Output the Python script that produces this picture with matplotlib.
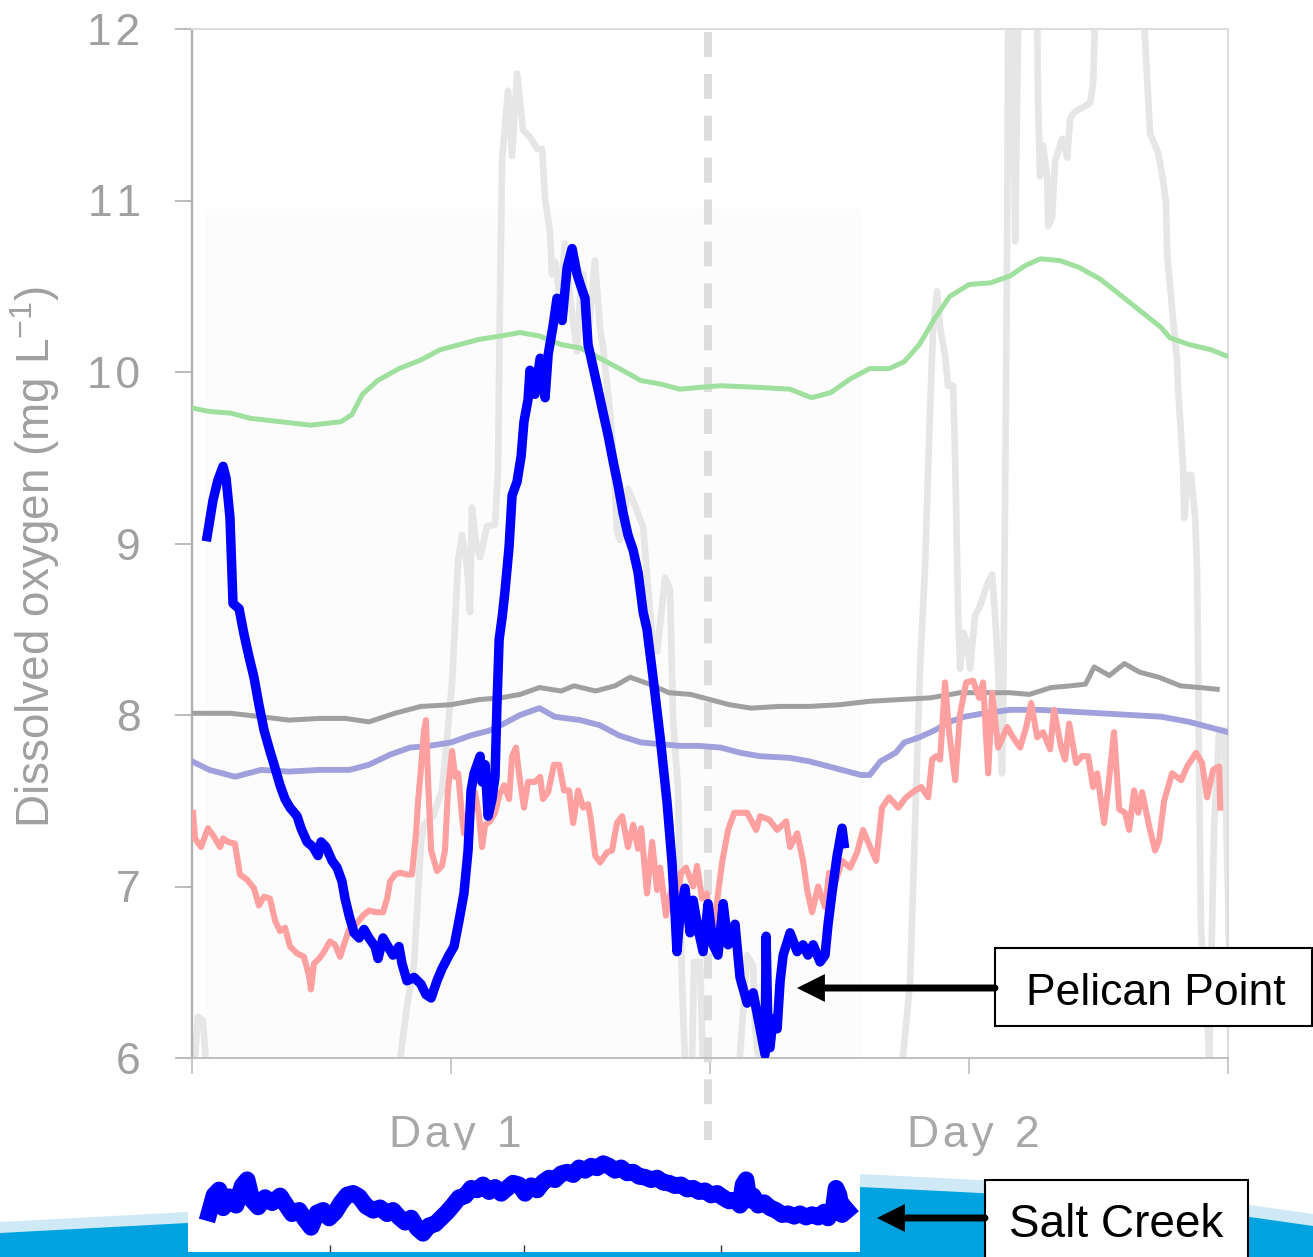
import matplotlib
matplotlib.use("Agg")
import matplotlib.pyplot as plt
from matplotlib.patches import Rectangle, Polygon, FancyArrowPatch

plt.rcParams["font.family"] = ["Liberation Sans", "DejaVu Sans"]

# Dissolved oxygen (mg/L) against hours since the start of the record.
GREEN_T = [0, 0.8, 1.8, 2.7, 4.1, 5.5, 6.9, 7.4, 7.9, 8.6, 9.6, 10.6, 11.5, 12.4,
           13.3, 14.3, 15.2, 16.1, 17.1, 18.0, 18.9, 19.8, 20.8, 21.7, 22.6, 23.5,
           24.5, 26.3, 27.7, 28.7, 29.6, 30.5, 31.4, 32.3, 33.0, 33.7, 34.4, 35.1,
           36.0, 37.0, 37.9, 38.6, 39.3, 40.2, 41.1, 42.1, 43.0, 43.9, 44.9, 45.3,
           46.2, 47.2, 48.0]
GREEN_DO = [9.79, 9.77, 9.76, 9.73, 9.71, 9.69, 9.71, 9.75, 9.87, 9.95, 10.02, 10.07,
            10.13, 10.16, 10.19, 10.21, 10.23, 10.21, 10.16, 10.14, 10.08, 10.02, 9.95,
            9.93, 9.90, 9.91, 9.92, 9.91, 9.90, 9.85, 9.88, 9.96, 10.02, 10.02, 10.06,
            10.16, 10.31, 10.44, 10.51, 10.52, 10.56, 10.62, 10.66, 10.65, 10.61, 10.54,
            10.45, 10.36, 10.26, 10.20, 10.16, 10.13, 10.09]

GREY_T = [0, 1.8, 3.2, 4.5, 5.9, 7.1, 8.2, 9.4, 10.6, 12.0, 13.3, 14.3, 15.2, 16.1,
          17.1, 17.7, 18.7, 19.6, 20.3, 21.2, 22.1, 23.1, 24.0, 24.9, 25.9, 27.2, 28.6,
          30.0, 31.4, 32.8, 34.2, 35.6, 37.0, 37.9, 38.8, 39.8, 40.7, 41.4, 41.8, 42.5,
          43.2, 43.9, 44.8, 45.8, 46.7, 47.5]
GREY_DO = [8.01, 8.01, 7.99, 7.97, 7.98, 7.98, 7.96, 8.01, 8.05, 8.06, 8.09, 8.10,
           8.12, 8.16, 8.14, 8.17, 8.14, 8.17, 8.22, 8.18, 8.13, 8.12, 8.09, 8.06, 8.04,
           8.05, 8.05, 8.06, 8.08, 8.09, 8.10, 8.13, 8.13, 8.13, 8.12, 8.16, 8.17, 8.18,
           8.28, 8.23, 8.30, 8.25, 8.22, 8.17, 8.16, 8.15]

LAV_T = [0, 0.8, 2.0, 3.2, 4.5, 5.9, 7.3, 8.2, 9.2, 10.1, 11.0, 12.0, 12.9, 13.8, 14.3,
         15.2, 16.1, 16.8, 18.0, 18.9, 19.8, 20.8, 21.7, 22.6, 23.5, 24.5, 25.4, 26.3,
         27.7, 28.6, 29.8, 31.0, 31.4, 31.9, 32.6, 33.0, 33.7, 34.4, 35.1, 35.8, 36.7,
         37.9, 39.3, 40.7, 42.1, 43.5, 44.9, 46.2, 48.0]
LAV_DO = [7.73, 7.68, 7.64, 7.68, 7.67, 7.68, 7.68, 7.71, 7.77, 7.81, 7.82, 7.84, 7.88,
          7.91, 7.94, 8.00, 8.04, 7.99, 7.97, 7.94, 7.88, 7.84, 7.83, 7.82, 7.82, 7.81,
          7.78, 7.76, 7.75, 7.73, 7.69, 7.65, 7.65, 7.73, 7.78, 7.84, 7.87, 7.91, 7.96,
          7.99, 8.01, 8.03, 8.03, 8.02, 8.01, 8.00, 7.99, 7.96, 7.90]

PINK_T = [0.05, 0.14, 0.42, 0.74, 1.02, 1.30, 1.44, 1.67, 1.99, 2.22, 2.55, 2.87, 3.10,
          3.34, 3.61, 3.85, 4.08, 4.31, 4.54, 4.87, 5.19, 5.42, 5.51, 5.65, 5.89, 6.07,
          6.39, 6.63, 6.86, 7.09, 7.28, 7.60, 7.92, 8.20, 8.53, 8.85, 9.04, 9.18, 9.41,
          9.64, 9.96, 10.19, 10.38, 10.47, 10.61, 10.75, 10.84, 10.94, 11.08, 11.35,
          11.58, 11.72, 11.86, 12.05, 12.19, 12.33, 12.51, 12.60, 12.84, 12.93, 13.11,
          13.30, 13.44, 13.58, 13.81, 14.04, 14.23, 14.46, 14.69, 14.83, 15.01, 15.15,
          15.38, 15.57, 15.89, 16.13, 16.26, 16.50, 16.77, 17.01, 17.24, 17.47, 17.66,
          17.89, 18.12, 18.35, 18.49, 18.68, 18.91, 19.23, 19.46, 19.69, 19.93, 20.20,
          20.44, 20.67, 20.81, 21.08, 21.32, 21.55, 21.69, 21.96, 22.20, 22.43, 22.66,
          22.89, 23.22, 23.40, 23.63, 23.86, 23.96, 24.14, 24.33, 24.56, 24.84, 25.12,
          25.72, 26.14, 26.32, 26.74, 27.11, 27.53, 27.71, 28.04, 28.31, 28.50, 28.73,
          29.01, 29.33, 29.52, 29.80, 30.12, 30.49, 30.82, 31.09, 31.42, 31.70, 31.97,
          32.30, 32.72, 33.09, 33.50, 33.78, 34.11, 34.29, 34.48, 34.66, 34.89, 35.08,
          35.36, 35.59, 35.87, 36.19, 36.47, 36.65, 36.89, 37.07, 37.35, 37.77, 38.04,
          38.37, 38.65, 38.88, 39.16, 39.43, 39.76, 39.94, 40.27, 40.45, 40.64, 40.96,
          41.24, 41.52, 41.75, 41.94, 42.26, 42.45, 42.72, 42.96, 43.23, 43.42, 43.65,
          43.84, 44.02, 44.35, 44.62, 44.81, 45.04, 45.41, 45.83, 46.11, 46.52, 46.80,
          47.03, 47.31, 47.59, 47.64]
PINK_DO = [7.43, 7.28, 7.23, 7.34, 7.29, 7.23, 7.28, 7.26, 7.25, 7.07, 7.04, 6.99, 6.89,
           6.94, 6.93, 6.80, 6.74, 6.76, 6.65, 6.61, 6.59, 6.48, 6.40, 6.55, 6.58, 6.61,
           6.68, 6.66, 6.59, 6.68, 6.75, 6.78, 6.83, 6.86, 6.85, 6.85, 6.93, 7.03, 7.07,
           7.08, 7.07, 7.07, 7.31, 7.49, 7.69, 7.91, 7.97, 7.61, 7.21, 7.09, 7.12, 7.21,
           7.56, 7.79, 7.64, 7.66, 7.41, 7.31, 7.34, 7.46, 7.55, 7.41, 7.23, 7.36, 7.38,
           7.43, 7.53, 7.59, 7.51, 7.76, 7.81, 7.66, 7.46, 7.61, 7.61, 7.64, 7.51, 7.55,
           7.71, 7.71, 7.56, 7.56, 7.37, 7.56, 7.46, 7.48, 7.38, 7.18, 7.14, 7.20, 7.21,
           7.37, 7.41, 7.23, 7.36, 7.22, 7.34, 6.96, 7.26, 6.98, 7.11, 6.83, 6.98, 6.90,
           7.08, 7.11, 7.00, 7.12, 6.93, 6.96, 6.76, 6.73, 6.92, 7.14, 7.33, 7.43, 7.43,
           7.33, 7.41, 7.39, 7.33, 7.38, 7.23, 7.31, 7.15, 6.98, 6.85, 7.00, 6.88, 7.08,
           7.02, 7.15, 7.11, 7.20, 7.33, 7.23, 7.15, 7.46, 7.52, 7.46, 7.52, 7.56, 7.58,
           7.52, 7.74, 7.76, 7.74, 8.19, 7.90, 7.62, 8.01, 8.19, 8.20, 8.10, 8.19, 7.66,
           8.13, 7.81, 7.93, 7.87, 7.81, 7.93, 8.07, 7.87, 7.90, 7.80, 8.03, 7.81, 7.74,
           7.95, 7.72, 7.76, 7.76, 7.58, 7.66, 7.37, 7.58, 7.90, 7.45, 7.43, 7.33, 7.56,
           7.43, 7.55, 7.35, 7.21, 7.27, 7.50, 7.66, 7.62, 7.70, 7.78, 7.72, 7.52, 7.68,
           7.70, 7.46]

# Pelican Point
PP_T = [0.70, 0.97, 1.20, 1.44, 1.58, 1.76, 1.85, 1.90, 2.18, 2.41, 2.64, 2.87, 3.10,
        3.34, 3.61, 3.85, 4.08, 4.31, 4.54, 4.87, 5.05, 5.33, 5.61, 5.84, 5.98, 6.21,
        6.49, 6.72, 6.95, 7.09, 7.28, 7.51, 7.74, 7.97, 8.20, 8.48, 8.62, 8.85, 9.08,
        9.31, 9.59, 9.73, 9.96, 10.29, 10.61, 10.84, 11.08, 11.35, 11.58, 11.91, 12.14,
        12.37, 12.60, 12.79, 12.93, 13.07, 13.35, 13.44, 13.58, 13.72, 13.90, 14.04,
        14.13, 14.23, 14.37, 14.50, 14.69, 14.83, 15.06, 15.25, 15.38, 15.57, 15.66,
        15.89, 16.13, 16.36, 16.50, 16.73, 16.91, 17.15, 17.38, 17.61, 17.84, 18.07,
        18.21, 18.35, 18.58, 18.81, 19.05, 19.28, 19.51, 19.74, 19.97, 20.20, 20.44,
        20.67, 20.90, 21.08, 21.36, 21.69, 22.01, 22.24, 22.38, 22.47, 22.61, 22.84,
        23.08, 23.22, 23.45, 23.68, 23.91, 24.14, 24.37, 24.61, 24.84, 25.16, 25.39,
        25.72, 26.00, 26.32, 26.55, 26.60, 26.69, 26.78, 26.92, 27.11, 27.25, 27.39,
        27.71, 28.04, 28.31, 28.54, 28.78, 29.10, 29.33, 29.47, 29.66, 29.89, 30.12,
        30.21]
PP_DO = [9.04, 9.25, 9.37, 9.45, 9.38, 9.15, 8.83, 8.65, 8.62, 8.47, 8.34, 8.22, 8.06,
         7.91, 7.79, 7.69, 7.59, 7.51, 7.46, 7.41, 7.34, 7.26, 7.23, 7.18, 7.26, 7.23,
         7.15, 7.11, 7.03, 6.93, 6.83, 6.73, 6.70, 6.75, 6.70, 6.65, 6.58, 6.70, 6.65,
         6.60, 6.65, 6.55, 6.45, 6.47, 6.43, 6.37, 6.35, 6.45, 6.52, 6.60, 6.65, 6.80,
         6.96, 7.21, 7.56, 7.66, 7.76, 7.61, 7.71, 7.41, 7.51, 7.64, 8.06, 8.44, 8.57,
         8.72, 8.98, 9.28, 9.36, 9.51, 9.71, 9.84, 10.01, 9.87, 10.08, 9.85, 10.10, 10.27,
         10.43, 10.30, 10.61, 10.72, 10.57, 10.48, 10.43, 10.16, 10.03, 9.90, 9.76, 9.63,
         9.48, 9.34, 9.18, 9.05, 8.96, 8.83, 8.60, 8.50, 8.22, 7.87, 7.49, 7.14, 6.84,
         6.62, 6.84, 6.99, 6.73, 6.92, 6.75, 6.62, 6.90, 6.66, 6.60, 6.90, 6.66, 6.78,
         6.47, 6.32, 6.38, 6.17, 6.02, 6.71, 6.13, 6.06, 6.23, 6.17, 6.45, 6.60, 6.73,
         6.62, 6.66, 6.60, 6.66, 6.56, 6.60, 6.78, 6.97, 7.18, 7.34, 7.25]

# Pale trace that runs off-scale above and below the axis
PALE_T = [0.09, 0.28, 0.51, 0.70, 5.0, 9.55, 9.64, 9.96, 10.29, 10.52, 10.61, 10.75,
          11.17, 11.58, 11.82, 12.05, 12.33, 12.51, 12.74, 12.88, 12.97, 13.16, 13.35,
          13.67, 14.04, 14.18, 14.27, 14.37, 14.64, 14.83, 15.06, 15.34, 15.66, 15.99,
          16.22, 16.36, 16.59, 16.68, 16.82, 17.05, 17.28, 17.52, 17.84, 17.98, 18.12,
          18.35, 18.67, 18.91, 19.05, 19.37, 19.51, 19.69, 19.83, 20.20, 20.53, 20.76,
          20.90, 21.08, 21.36, 21.55, 21.92, 22.15, 22.29, 22.52, 22.61, 22.70, 22.84,
          22.98, 23.17, 23.26, 23.54, 23.68, 25.16, 25.39, 25.72, 26.00, 26.09, 26.32,
          30.5, 32.81, 32.95, 33.27, 33.50, 33.73, 33.97, 34.20, 34.34, 34.52, 34.66,
          34.89, 35.03, 35.26, 35.36, 35.50, 35.59, 35.73, 35.91, 36.05, 36.28, 36.52,
          36.84, 37.07, 37.21, 37.35, 37.53, 37.58, 37.72, 37.77, 37.81, 38.00, 38.14,
          38.28, 38.60, 39.16, 39.20, 39.29, 39.43, 39.62, 39.67, 39.85, 39.99, 40.32,
          40.55, 40.69, 40.92, 41.38, 41.61, 41.75, 41.84, 42.10, 44.11, 44.25, 44.39,
          44.76, 44.99, 45.13, 45.18, 45.46, 45.64, 45.69, 45.92, 45.97, 46.15, 46.29,
          46.48, 46.57, 46.62, 46.66, 46.75, 47.08, 47.13, 47.36, 47.59, 47.82, 48.01,
          48.12]
PALE_DO = [5.93, 6.24, 6.22, 5.87, 5.2, 5.87, 5.99, 6.30, 6.55, 7.06, 7.26, 7.36, 7.41,
           7.56, 7.87, 8.19, 8.90, 9.05, 8.87, 8.60, 9.21, 9.00, 8.92, 9.10, 9.11, 9.43,
           10.43, 11.24, 11.64, 11.26, 11.74, 11.41, 11.37, 11.30, 11.30, 11.01, 10.81,
           10.57, 10.64, 10.43, 10.75, 10.43, 10.12, 10.43, 10.57, 10.21, 10.65, 10.25,
           10.14, 9.76, 9.54, 9.07, 9.02, 9.32, 9.22, 9.14, 9.10, 8.82, 8.39, 8.37, 8.80,
           8.73, 7.96, 7.57, 7.04, 6.45, 5.99, 5.81, 5.99, 6.56, 6.56, 5.93, 5.76, 6.02,
           6.60, 6.54, 6.17, 5.93, 5.17, 5.81, 6.02, 6.44, 7.36, 8.27, 8.88, 9.80, 10.26,
           10.47, 10.26, 10.10, 9.92, 9.92, 9.49, 8.58, 8.27, 8.48, 8.42, 8.27, 8.58, 8.64,
           8.76, 8.82, 8.58, 8.27, 7.66, 7.97, 9.94, 10.83, 12.05, 12.17, 10.76, 12.05,
           12.30, 12.05, 11.59, 11.14, 11.32, 11.14, 10.85, 10.90, 11.23, 11.36, 11.25,
           11.48, 11.52, 11.55, 11.57, 11.68, 12.05, 12.30, 12.05, 11.72, 11.39, 11.28,
           11.12, 10.99, 10.69, 10.30, 10.07, 9.90, 9.45, 9.15, 9.40, 9.40, 9.15, 8.82,
           8.27, 7.66, 6.75, 6.14, 5.99, 7.36, 7.91, 7.91, 6.90, 5.98]

# Salt Creek (inset, same time base)
SC_T = [0.79, 1.02, 1.25, 1.44, 1.71, 2.04, 2.32, 2.55, 2.78, 3.06, 3.38, 3.71, 4.08,
        4.36, 4.63, 4.96, 5.24, 5.51, 5.79, 6.07, 6.35, 6.63, 6.90, 7.18, 7.46, 7.74,
        8.06, 8.39, 8.71, 9.04, 9.31, 9.59, 9.87, 10.15, 10.43, 10.70, 10.98, 11.26,
        11.54, 11.82, 12.09, 12.37, 12.65, 12.93, 13.21, 13.48, 13.76, 14.04, 14.32,
        14.60, 14.87, 15.15, 15.43, 15.71, 15.99, 16.26, 16.54, 16.82, 17.10, 17.38,
        17.66, 17.93, 18.21, 18.49, 18.77, 19.05, 19.32, 19.60, 19.88, 20.16, 20.44,
        20.71, 20.99, 21.27, 21.55, 21.83, 22.10, 22.38, 22.66, 22.94, 23.22, 23.49,
        23.77, 24.05, 24.33, 24.61, 24.88, 25.16, 25.39, 25.53, 25.67, 25.81, 26.00,
        26.23, 26.51, 26.78, 27.06, 27.34, 27.62, 27.90, 28.17, 28.45, 28.73, 29.01,
        29.29, 29.47, 29.70, 29.84, 29.98, 30.12, 30.35]
SC_DO = [7.66, 7.87, 7.93, 7.72, 7.85, 7.75, 7.98, 8.05, 7.81, 7.73, 7.84, 7.78, 7.86,
         7.75, 7.65, 7.69, 7.58, 7.49, 7.66, 7.69, 7.60, 7.67, 7.78, 7.87, 7.89, 7.85,
         7.74, 7.69, 7.72, 7.65, 7.69, 7.61, 7.55, 7.60, 7.48, 7.42, 7.51, 7.53, 7.60,
         7.67, 7.75, 7.84, 7.86, 7.95, 7.93, 7.99, 7.91, 7.96, 7.89, 7.95, 8.01, 7.99,
         7.89, 7.98, 7.93, 8.02, 8.07, 8.05, 8.12, 8.14, 8.11, 8.19, 8.16, 8.21, 8.19,
         8.24, 8.21, 8.16, 8.19, 8.13, 8.14, 8.09, 8.08, 8.05, 8.07, 8.02, 8.01, 7.98,
         7.99, 7.94, 7.95, 7.91, 7.92, 7.87, 7.89, 7.84, 7.80, 7.81, 7.75, 7.99, 8.05,
         7.81, 7.86, 7.75, 7.78, 7.72, 7.69, 7.64, 7.65, 7.62, 7.65, 7.61, 7.64, 7.61,
         7.67, 7.60, 7.69, 7.95, 7.87, 7.64, 7.69]

Y_TICKS = [6, 7, 8, 9, 10, 11, 12]
Y_TICK_LABELS = ["6", "7", "8", "9", "1\u200a0", "1\u200a1", "1\u200a2"]
X_TICKS = [0, 12, 24, 36, 48]
DAY_LABELS = [(12, "D\u200aa\u200ay\u2009 1"), (36, "D\u200aa\u200ay\u2009 2")]
INSET_TICKS = [6.4, 15.4, 24.5]
MIDNIGHT = 23.9

W, H = 1313, 1257
TICK_GREY = "#A0A0A0"

fig = plt.figure(figsize=(W / 100, H / 100), dpi=100)

# full-figure layer in pixel units for the slide decoration
bg = fig.add_axes([0, 0, 1, 1], zorder=0)
bg.set_xlim(0, W)
bg.set_ylim(H, 0)
bg.axis("off")
haze = [(0, 1222), (188, 1212), (400, 1194), (600, 1182), (860, 1174), (980, 1180),
        (1100, 1190), (1250, 1205), (W, 1214), (W, H), (0, H)]
band = [(0, 1233), (188, 1223), (400, 1205), (600, 1193), (860, 1187), (980, 1193),
        (1100, 1203), (1250, 1217), (W, 1226), (W, H), (0, H)]
bg.add_patch(Polygon(haze, closed=True, facecolor="#CFEAF6", edgecolor="none"))
bg.add_patch(Polygon(band, closed=True, facecolor="#00A3E0", edgecolor="none"))

ax = fig.add_axes([192 / W, 1 - 1058 / H, 1036 / W, 1029 / H], zorder=1)
ax.set_facecolor("none")
ax.set_xlim(0, 48)
ax.set_ylim(6, 12)

ax.add_patch(Rectangle((0.6, 6.0), 30.4, 4.95, facecolor="#FCFCFC",
                       edgecolor="none", zorder=0))

ax.plot(PALE_T, PALE_DO, color="#E6E6E6", lw=4.8, zorder=1)
ax.plot([MIDNIGHT, MIDNIGHT], [11.98, 5.52], color="#DDDDDD", lw=5.8,
        dashes=(3.1, 2.1), clip_on=False, zorder=2)
ax.plot(GREEN_T, GREEN_DO, color="#9FE09F", lw=3.6, zorder=3)
ax.plot(GREY_T, GREY_DO, color="#A0A0A0", lw=3.6, zorder=3)
ax.plot(LAV_T, LAV_DO, color="#A0A0DC", lw=4.2, zorder=3)
ax.plot(PINK_T, PINK_DO, color="#FFA0A0", lw=4.4, zorder=4)
ax.plot(PP_T, PP_DO, color="#0000FF", lw=6.8, zorder=5, solid_joinstyle="round")

for side in ("top", "right"):
    ax.spines[side].set_color("#DDDDDD")
    ax.spines[side].set_linewidth(1.5)
ax.spines["left"].set_color("#B0B0B0")
ax.spines["left"].set_linewidth(1.7)
ax.spines["bottom"].set_color("#BBBBBB")
ax.spines["bottom"].set_linewidth(1.3)

ax.set_yticks(Y_TICKS)
ax.set_yticklabels(Y_TICK_LABELS)
ax.set_xticks(X_TICKS)
ax.set_xticklabels([])
ax.tick_params(axis="y", length=12, width=1.1, color="#A8A8A8", pad=25,
               labelsize=32, labelcolor=TICK_GREY)
ax.tick_params(axis="x", length=11.5, width=1.1, color="#BBBBBB")

for t, lab in DAY_LABELS:
    ax.text(t + 0.2, 5.48, lab, ha="center", va="baseline", fontsize=32,
            color="#A8A8A8", clip_on=False)

fig.text(35 / W, 1 - 557 / H, "Dissolved oxygen (mg L$^{\\mathregular{-1}}$)",
         rotation=90, ha="center", va="center", fontsize=33, color=TICK_GREY)

# Salt Creek inset
ins = fig.add_axes([188 / W, 1 - 1252 / H, 672 / W, 102 / H], zorder=2)
ins.set_facecolor("white")
ins.set_xlim(-0.19, 30.95)
ins.set_ylim(7.2, 8.4)
ins.plot(SC_T, SC_DO, color="#0000FF", lw=12, solid_joinstyle="round")
for s in ins.spines.values():
    s.set_visible(False)
ins.set_yticks([])
ins.set_xticks(INSET_TICKS)
ins.set_xticklabels([])
ins.tick_params(axis="x", direction="in", length=5, width=1.0, color="#333333")

# labelled arrows, drawn in pixel units on top of everything
fg = fig.add_axes([0, 0, 1, 1], zorder=3)
fg.set_xlim(0, W)
fg.set_ylim(H, 0)
fg.axis("off")
fg.patch.set_alpha(0)

fg.add_patch(Rectangle((995, 948), 317, 78, facecolor="white",
                       edgecolor="black", lw=1.5))
fg.text(1156, 1005, "Pelican Point", ha="center", va="baseline", fontsize=32)
fg.add_patch(FancyArrowPatch((995, 988), (797, 988),
                             arrowstyle="-|>,head_length=12,head_width=6",
                             mutation_scale=1, lw=5, color="black",
                             joinstyle="miter", shrinkA=0, shrinkB=0))

fg.add_patch(Rectangle((985, 1180), 263, 90, facecolor="white",
                       edgecolor="black", lw=1.5))
fg.text(1116, 1237, "Salt Creek", ha="center", va="baseline", fontsize=33)
fg.add_patch(FancyArrowPatch((985, 1218), (877, 1218),
                             arrowstyle="-|>,head_length=12,head_width=6",
                             mutation_scale=1, lw=5, color="black",
                             joinstyle="miter", shrinkA=0, shrinkB=0))

fig.savefig("out.png", dpi=100)
